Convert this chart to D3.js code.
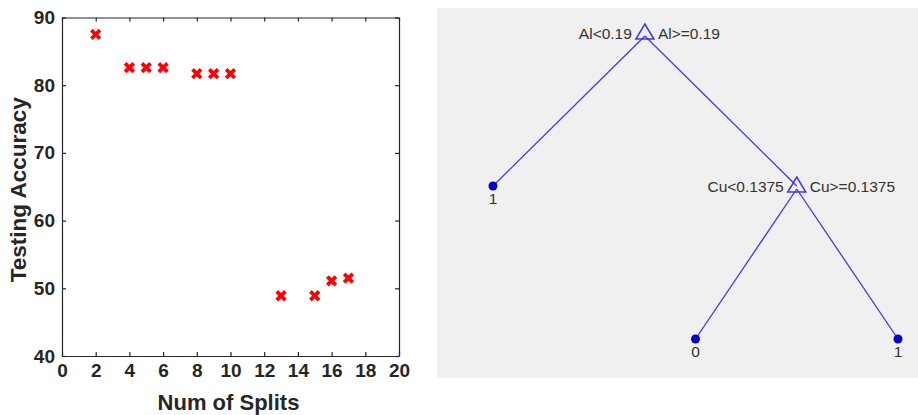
<!DOCTYPE html>
<html>
<head>
<meta charset="utf-8">
<script src="https://cdn.jsdelivr.net/npm/d3@7"></script>
<style>
  body { margin: 0; background: #fff; }
  svg { display: block; }
</style>
</head>
<body>
<script>
// data
var splits = [2, 4, 5, 6, 8, 9, 10, 13, 15, 16, 17];
var accuracy = [87.5, 82.6, 82.6, 82.6, 81.7, 81.7, 81.7, 48.9, 48.9, 51.1, 51.5];
var xTicks = [0, 2, 4, 6, 8, 10, 12, 14, 16, 18, 20];
var yTicks = [40, 50, 60, 70, 80, 90];

// decision tree (id, parent, split rule or class label)
var treeIds = ["n0", "n1", "n2", "n3", "n4"];
var treeParents = ["", "n0", "n0", "n2", "n2"];
var treeLeft = ["Al<0.19", null, "Cu<0.1375", null, null];
var treeRight = ["Al>=0.19", null, "Cu>=0.1375", null, null];
var treeClass = [null, "1", null, "0", "1"];

var svg = d3.select("body").append("svg")
    .attr("width", 918)
    .attr("height", 415);

// #region SCATTER
var x = d3.scaleLinear().domain([0, 20]).range([62, 399]);
var y = d3.scaleLinear().domain([40, 90]).range([356, 17.5]);
var ink = "#262626";
var tickFont = "'Liberation Sans', Arial, sans-serif";

var plot = svg.append("g").attr("id", "scatter");

plot.append("g")
    .attr("transform", "translate(0," + y(40) + ")")
    .call(d3.axisBottom(x).tickValues(xTicks).tickSizeInner(-4).tickSizeOuter(0).tickPadding(8));
plot.append("g")
    .attr("transform", "translate(0," + y(90) + ")")
    .call(d3.axisTop(x).tickValues(xTicks).tickSizeInner(-4).tickSizeOuter(0).tickFormat(""));
plot.append("g")
    .attr("transform", "translate(" + x(0) + ",0)")
    .call(d3.axisLeft(y).tickValues(yTicks).tickSizeInner(-4).tickSizeOuter(0).tickPadding(7));
plot.append("g")
    .attr("transform", "translate(" + x(20) + ",0)")
    .call(d3.axisRight(y).tickValues(yTicks).tickSizeInner(-4).tickSizeOuter(0).tickFormat(""));

plot.selectAll(".domain, .tick line").attr("stroke", ink).attr("stroke-width", 1.2);
plot.selectAll(".tick text")
    .attr("fill", ink)
    .style("font-family", tickFont)
    .style("font-size", "19px")
    .style("font-weight", "bold");

plot.append("text")
    .text("Num of Splits")
    .attr("x", (x(0) + x(20)) / 2 - 2)
    .attr("y", 410)
    .attr("text-anchor", "middle")
    .attr("fill", ink)
    .style("font-family", tickFont)
    .style("font-size", "22px")
    .style("font-weight", "bold");

plot.append("text")
    .text("Testing Accuracy")
    .attr("transform", "translate(26," + ((y(40) + y(90)) / 2 + 3) + ") rotate(-90)")
    .attr("text-anchor", "middle")
    .attr("fill", ink)
    .style("font-family", tickFont)
    .style("font-size", "22.5px")
    .style("font-weight", "bold");

var m = 4.3;
plot.append("g")
    .selectAll("path")
    .data(splits)
    .enter()
    .append("path")
        .attr("d", function(d, i) {
            var px = x(d), py = y(accuracy[i]);
            return "M" + (px - m) + "," + (py - m) + "L" + (px + m) + "," + (py + m) +
                   "M" + (px - m) + "," + (py + m) + "L" + (px + m) + "," + (py - m);
        })
        .attr("stroke", "#ff0000")
        .attr("stroke-width", 3.8)
        .attr("fill", "none");
// #endregion

// #region TREE
svg.append("rect")
    .attr("x", 437)
    .attr("y", 8)
    .attr("width", 481)
    .attr("height", 370)
    .attr("fill", "#f0f0f0");

var rows = treeIds.map(function(id, i) {
    return {id: id, parent: treeParents[i], left: treeLeft[i], right: treeRight[i], cls: treeClass[i]};
});
var root = d3.stratify().id(d => d.id).parentId(d => d.parent)(rows);

// leaves evenly spaced, parents at mean of children
var leafIndex = 0;
root.eachAfter(function(n) {
    if (!n.children) {
        n.pos = ++leafIndex;
    } else {
        n.pos = d3.mean(n.children, c => c.pos);
    }
});

var tx = d3.scaleLinear().domain([1, leafIndex]).range([493, 898]);
var ty = d3.scaleLinear().domain([0, 2]).range([33, 339]);
var blue = "#3a3af0";
var treeFont = "Arial, 'Liberation Sans', sans-serif";
var treeInk = "#333333";

var tree = svg.append("g").attr("id", "tree");

tree.selectAll("line")
    .data(root.links())
    .enter()
    .append("line")
        .attr("x1", d => tx(d.source.pos))
        .attr("y1", d => ty(d.source.depth) + 3)
        .attr("x2", d => tx(d.target.pos))
        .attr("y2", d => ty(d.target.depth))
        .attr("stroke", blue)
        .attr("stroke-width", 1.3);

var inner = root.descendants().filter(n => n.children);
var leaves = root.leaves();

tree.selectAll("path.split")
    .data(inner)
    .enter()
    .append("path")
        .attr("class", "split")
        .attr("d", function(n) {
            var cx = tx(n.pos), cy = ty(n.depth);
            return "M" + cx + "," + (cy - 9) + "L" + (cx + 9) + "," + (cy + 6) + "L" + (cx - 9) + "," + (cy + 6) + "Z";
        })
        .attr("fill", "none")
        .attr("stroke", blue)
        .attr("stroke-width", 1.5);

tree.selectAll("text.left")
    .data(inner)
    .enter()
    .append("text")
        .attr("class", "left")
        .text(n => n.data.left)
        .attr("x", n => tx(n.pos) - 13)
        .attr("y", n => ty(n.depth) + 6)
        .attr("text-anchor", "end")
        .attr("fill", treeInk)
        .style("font-family", treeFont)
        .style("font-size", "15.5px");

tree.selectAll("text.right")
    .data(inner)
    .enter()
    .append("text")
        .attr("class", "right")
        .text(n => n.data.right)
        .attr("x", n => tx(n.pos) + 13)
        .attr("y", n => ty(n.depth) + 6)
        .attr("text-anchor", "start")
        .attr("fill", treeInk)
        .style("font-family", treeFont)
        .style("font-size", "15.5px");

tree.selectAll("circle")
    .data(leaves)
    .enter()
    .append("circle")
        .attr("cx", n => tx(n.pos))
        .attr("cy", n => ty(n.depth))
        .attr("r", 4.5)
        .attr("fill", "#0000cc");

tree.selectAll("text.cls")
    .data(leaves)
    .enter()
    .append("text")
        .attr("class", "cls")
        .text(n => n.data.cls)
        .attr("x", n => tx(n.pos))
        .attr("y", n => ty(n.depth) + 18)
        .attr("text-anchor", "middle")
        .attr("fill", treeInk)
        .style("font-family", treeFont)
        .style("font-size", "15.5px");
// #endregion
</script>
</body>
</html>
